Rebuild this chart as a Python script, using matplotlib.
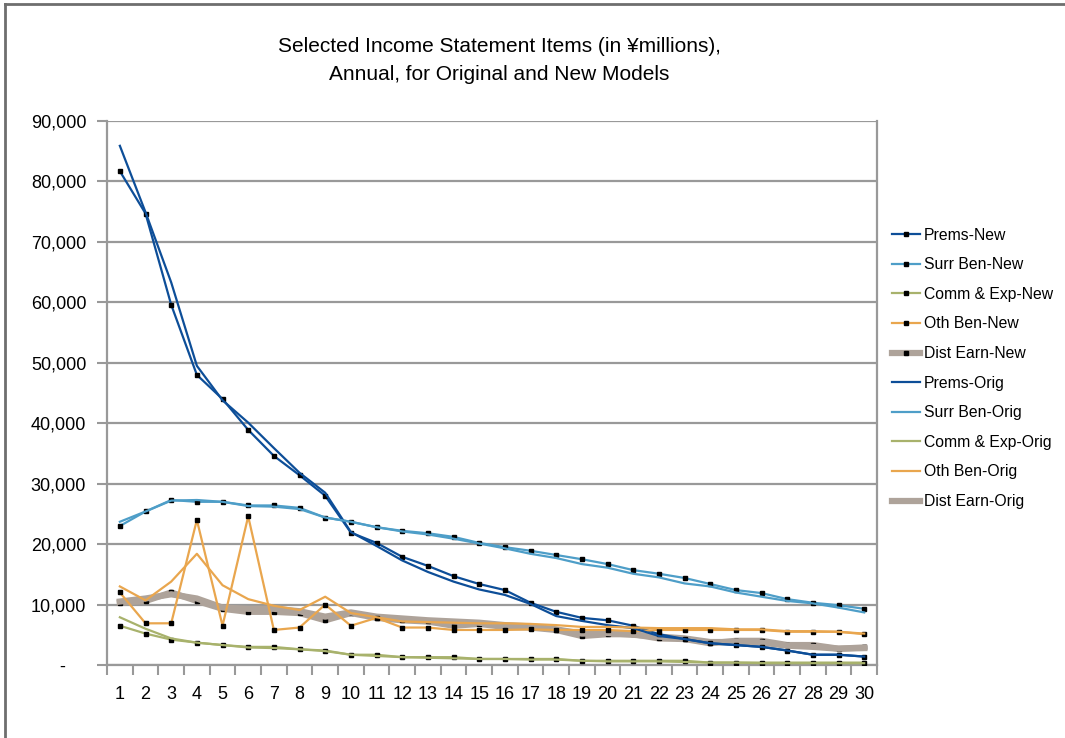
import matplotlib
matplotlib.use("Agg")
import matplotlib.pyplot as plt
from matplotlib.lines import Line2D
from matplotlib.ticker import FuncFormatter, FixedLocator

plt.rcParams['font.family'] = ['Liberation Sans', 'DejaVu Sans']

years = list(range(1, 31))

prems_new = [81700, 74700, 59600, 48000, 44000, 38900, 34600, 31400, 28000, 21900,
             20200, 17900, 16400, 14700, 13400, 12400, 10300, 8800, 7800, 7400,
             6500, 5100, 4300, 3600, 3300, 3000, 2400, 1700, 1700, 1400]
surr_ben_new = [23000, 25400, 27300, 27000, 27000, 26400, 26400, 26000, 24400, 23700,
                22800, 22200, 21800, 21200, 20200, 19500, 18900, 18200, 17500, 16700,
                15700, 15100, 14400, 13400, 12400, 11900, 10900, 10300, 9900, 9300]
comm_exp_new = [6500, 5200, 4200, 3700, 3300, 3000, 3000, 2600, 2400, 1700,
                1700, 1300, 1300, 1300, 1000, 1000, 1000, 1000, 700, 700,
                700, 700, 700, 400, 400, 400, 400, 400, 400, 400]
oth_ben_new = [12000, 6900, 6900, 24000, 6500, 24600, 5800, 6200, 10000, 6500,
               7800, 6200, 6200, 5800, 5800, 5800, 5900, 5800, 5800, 5800,
               5600, 5800, 5800, 5800, 5800, 5800, 5500, 5500, 5500, 5100]
dist_earn_new = [10300, 10600, 12000, 10600, 9300, 8800, 8800, 8600, 7400, 8600,
                 7800, 7400, 7200, 6500, 6800, 6300, 6200, 5800, 4800, 5100,
                 5100, 4400, 4300, 3600, 4000, 4000, 3300, 3300, 2700, 2900]

prems_orig = [85900, 74900, 63300, 49500, 43800, 40100, 35900, 31800, 28500, 22000,
              19700, 17300, 15400, 13800, 12500, 11600, 10100, 8100, 7300, 6600,
              6100, 4800, 4300, 3600, 3300, 3000, 2400, 1700, 1700, 1400]
surr_ben_orig = [23700, 25400, 27200, 27300, 27000, 26300, 26200, 25800, 24400, 23700,
                 22800, 22100, 21600, 20900, 20100, 19300, 18400, 17700, 16700, 16100,
                 15100, 14500, 13500, 13000, 12000, 11300, 10600, 10200, 9500, 8700]
comm_exp_orig = [7900, 6000, 4400, 3700, 3300, 2900, 2800, 2600, 2300, 1700,
                 1500, 1300, 1200, 1100, 1000, 1000, 900, 900, 700, 600,
                 600, 600, 500, 400, 400, 300, 300, 300, 300, 300]
oth_ben_orig = [13000, 10700, 13800, 18400, 13200, 10900, 9800, 9100, 11300, 8600,
                7900, 7200, 7100, 7000, 6900, 6900, 6800, 6600, 6300, 6300,
                6200, 6100, 6100, 6100, 5900, 5900, 5600, 5600, 5500, 5200]
dist_earn_orig = [10500, 11000, 11700, 11000, 9500, 9300, 9300, 8900, 8000, 8700,
                  8000, 7700, 7400, 7200, 7000, 6600, 6400, 5900, 5200, 5300,
                  5000, 4700, 4400, 3800, 3800, 3700, 3200, 3000, 2700, 2800]

c_prems = '#0D4E98'
c_surr = '#4E9EC8'
c_comm = '#A8B26C'
c_oth = '#E9A64E'
c_dist = '#AEA39A'

fig = plt.figure(figsize=(10.65, 7.38), dpi=100)
ax = fig.add_axes([0.1005, 0.0989, 0.7230, 0.7371])

lw = 1.6
mk = dict(marker='s', markersize=3.4, markerfacecolor='black', markeredgecolor='black')

new_series = [
    (prems_new, c_prems, lw, 'Prems-New'),
    (surr_ben_new, c_surr, lw, 'Surr Ben-New'),
    (comm_exp_new, c_comm, lw, 'Comm & Exp-New'),
    (oth_ben_new, c_oth, lw, 'Oth Ben-New'),
    (dist_earn_new, c_dist, 4.5, 'Dist Earn-New'),
]
orig_series = [
    (prems_orig, c_prems, lw, 'Prems-Orig'),
    (surr_ben_orig, c_surr, lw, 'Surr Ben-Orig'),
    (comm_exp_orig, c_comm, lw, 'Comm & Exp-Orig'),
    (oth_ben_orig, c_oth, lw, 'Oth Ben-Orig'),
    (dist_earn_orig, c_dist, 4.5, 'Dist Earn-Orig'),
]

handles = []
for vals, col, w, name in new_series:
    z = 2 if w > 2 else 3
    h, = ax.plot(years, vals, color=col, linewidth=w, label=name, zorder=z, **mk)
    handles.append(h)
for vals, col, w, name in orig_series:
    z = 2 if w > 2 else 3
    h, = ax.plot(years, vals, color=col, linewidth=w, label=name, zorder=z)
    handles.append(h)

ax.set_xlim(0.5, 30.5)
ax.set_ylim(0, 90000)

# category labels centred, tick marks between categories
ax.xaxis.set_major_locator(FixedLocator(years))
ax.xaxis.set_minor_locator(FixedLocator([i + 0.5 for i in range(0, 31)]))
ax.tick_params(axis='x', which='major', length=0, pad=15, labelsize=13)
ax.tick_params(axis='x', which='minor', length=7, width=1.5, color='#999999')

ax.set_yticks(range(0, 90001, 10000))
ax.yaxis.set_major_formatter(FuncFormatter(lambda v, p: '-    ' if v == 0 else f'{int(v):,}'))
ax.tick_params(axis='y', length=7, width=1.5, color='#999999', labelsize=13, pad=8)

ax.grid(axis='y', color='#999999', linewidth=1.6)
ax.set_axisbelow(True)
for side in ['left', 'right', 'bottom']:
    ax.spines[side].set_color('#999999')
    ax.spines[side].set_linewidth(1.6)
ax.spines['top'].set_visible(False)

fig.text(0.469, 0.918, 'Selected Income Statement Items (in ¥millions),\nAnnual, for Original and New Models',
         ha='center', va='center', fontsize=15, linespacing=1.62)

leg = fig.legend(handles=handles, loc='upper left', bbox_to_anchor=(0.832, 0.7),
                 frameon=False, fontsize=11.3, handlelength=1.75, handletextpad=0.25,
                 labelspacing=0.93, borderaxespad=0)

# outer frame on the left and top edges
fig.add_artist(Line2D([0.0045, 0.0045], [0, 0.995], transform=fig.transFigure,
                      color='#6E6E6E', linewidth=2))
fig.add_artist(Line2D([0.0045, 1.0], [0.995, 0.995], transform=fig.transFigure,
                      color='#6E6E6E', linewidth=2))

fig.savefig('out.png', dpi=100)
